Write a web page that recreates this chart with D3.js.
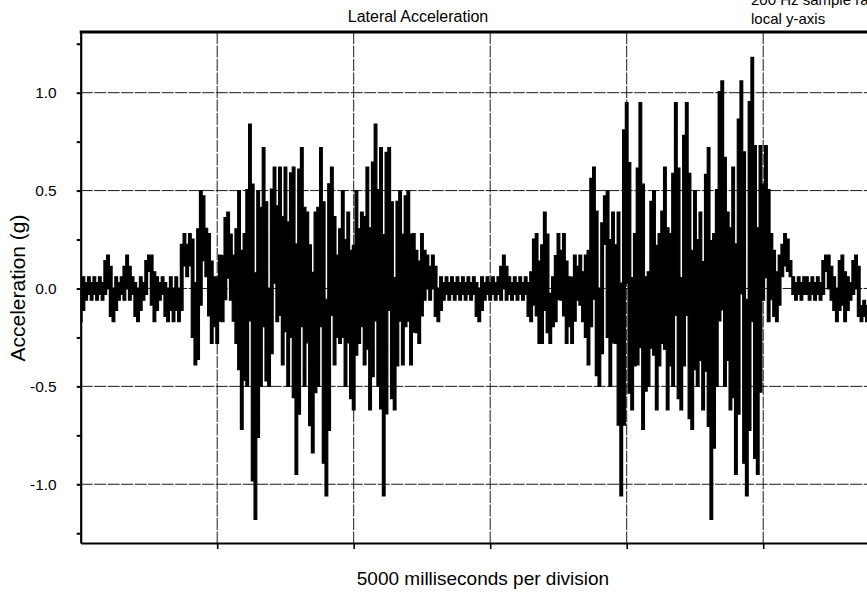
<!DOCTYPE html>
<html><head><meta charset="utf-8">
<script src="https://cdn.jsdelivr.net/npm/d3@7"></script>
<style>
body{margin:0;background:#fff}
text{font-family:"Liberation Sans",Arial,sans-serif;fill:#000}
</style>
</head><body><svg id="c" width="867" height="597"></svg>
<script>
const title = "Lateral Acceleration";
const notes = ["200 Hz sample rate", "local y-axis"];
const xLabel = "5000 milliseconds per division";
const yLabel = "Acceleration (g)";
const yTicksMajor = [-1.0, -0.5, 0.0, 0.5, 1.0];
const yTicksMinor = [-1.25, -1.0, -0.75, -0.5, -0.25, 0, 0.25, 0.5, 0.75, 1.0, 1.25];
const xDivisions = [5000, 10000, 15000, 20000, 25000];
const sampleMs = 100;

// acceleration (g), one value per 100 ms, grouped per 5000 ms division
const div0 = [-0.17,0.06,-0.06,0.06,-0.06,0.06,-0.06,0.06,-0.06,0.06,
  0.17,-0.06,-0.17,0.06,-0.06,0.06,-0.06,0.17,-0.06,0.06,
  -0.06,-0.17,0.06,-0.06,0.06,0.17,0.17,-0.17,0.06,-0.06,
  0.06,-0.06,-0.17,0.06,-0.17,0.06,-0.17,0.06,0.28,0.06,
  0.28,0.17,-0.39,-0.28,0.5,0.39,0.06,0.28,-0.28,0.06];
const div1 = [-0.28,0.17,-0.17,0.28,0.39,-0.06,0.17,-0.28,0.5,-0.72,
  0.28,-0.5,0.84,-0.39,-1.18,0.5,-0.5,0.72,-0.39,-0.5,
  0.17,0.62,-0.17,0.62,-0.39,0.62,-0.5,0.5,0.62,-0.95,
  0.28,0.72,-0.5,0.39,-0.28,-0.84,0.39,-0.5,0.72,-0.39,
  -1.06,0.28,0.62,-0.39,0.17,-0.28,0.5,-0.5,0.39,-0.39];
const div2 = [-0.62,0.5,-0.28,0.39,-0.39,0.62,-0.62,0.06,0.84,-0.5,
  0.72,-1.06,0.62,0.72,-0.39,-0.62,0.28,0.5,-0.39,0.39,
  0.5,-0.39,0.28,-0.06,-0.28,0.28,-0.06,0.17,-0.06,0.17,
  -0.06,-0.17,0.06,-0.06,0.06,-0.06,0.06,-0.06,0.06,-0.06,
  0.06,-0.06,0.06,-0.06,0.06,-0.06,-0.17,0.06,-0.06,0.06];
const div3 = [-0.06,0.06,-0.06,0.06,-0.06,0.17,-0.06,0.06,-0.06,0.06,
  -0.06,0.06,-0.06,0.06,-0.06,-0.17,0.17,0.28,-0.28,-0.28,
  0.39,-0.06,-0.28,0.06,-0.17,0.28,-0.06,0.28,-0.28,0.06,
  -0.28,0.17,-0.06,0.17,-0.17,0.17,-0.39,0.39,0.62,-0.28,
  -0.5,0.17,0.39,0.5,-0.5,0.39,-0.28,0.39,-1.06,0.39];
const div4 = [0.95,-0.28,-0.62,0.28,-0.39,0.95,-0.72,0.06,-0.5,0.28,
  0.5,-0.62,0.28,-0.28,0.62,-0.62,0.28,-0.5,0.95,-0.39,
  -0.62,0.28,0.95,-0.5,-0.72,0.5,-0.5,0.39,-0.62,0.17,
  0.72,-1.18,0.28,-0.5,0.84,1.06,-0.5,0.39,-0.62,0.62,
  -0.95,0.28,1.06,-0.39,-1.06,0.28,1.18,-0.62,-0.95,0.73];
const div5 = [-0.06,0.73,-0.17,0.28,-0.06,-0.17,0.17,0.06,0.28,0.17,
  0.06,0.06,-0.06,0.06,-0.06,0.06,0.06,-0.06,0.06,-0.06,
  0.06,-0.06,0.06,0.17,0.17,-0.06,0.06,-0.17,0.06,0.17,
  -0.17,0.06,-0.06,0.06,0.17,-0.06,-0.17,-0.06,-0.17];
const accel = [].concat(div0, div1, div2, div3, div4, div5);

const svg = d3.select("#c");
svg.append("rect").attr("width", 867).attr("height", 597).attr("fill", "#fff");

const x = d3.scaleLinear().domain([0, 30000]).range([80.7, 899.7]);
const y = d3.scaleLinear().domain([-1.3, 1.31]).range([543, 32]);
const [x0, x1] = x.range();
const [yb, yt] = y.range();

svg.append("defs").append("clipPath").attr("id", "plot")
  .append("rect").attr("x", x0).attr("y", yt).attr("width", x1 - x0).attr("height", yb - yt);

// gridlines
const grid = svg.append("g").attr("stroke", "#1a1a1a").attr("stroke-width", 1).attr("stroke-dasharray", "12,1.5");
grid.selectAll("line.v").data(xDivisions).join("line").attr("class", "v")
  .attr("x1", d => x(d)).attr("x2", d => x(d)).attr("y1", yt).attr("y2", yb);
grid.selectAll("line.h").data(yTicksMajor).join("line").attr("class", "h")
  .attr("x1", x0).attr("x2", x1).attr("y1", d => y(d)).attr("y2", d => y(d));

// signal: dense 200 Hz trace drawn as the vertical span it sweeps around each 100 ms sample
const reach = 0.75;
const n = accel.length;
const span = accel.map((v, i) => {
  const a = i > 0 ? v + reach * (accel[i - 1] - v) : v;
  const b = i < n - 1 ? v + reach * (accel[i + 1] - v) : v;
  return { t: i * sampleMs, lo: Math.min(v, a, b), hi: Math.max(v, a, b) };
});
const area = d3.area().x(d => x(d.t)).y0(d => y(d.lo)).y1(d => y(d.hi)).curve(d3.curveStep);
svg.append("path").datum(span)
  .attr("clip-path", "url(#plot)")
  .attr("fill", "#000").attr("stroke", "#000").attr("stroke-width", 1.2)
  .attr("stroke-linejoin", "miter")
  .attr("d", area);

// left axis
const fmt = d => (yTicksMajor.some(m => Math.abs(m - d) < 1e-9) ? d.toFixed(1) : "");
const ay = svg.append("g").attr("transform", `translate(${x0},0)`)
  .call(d3.axisLeft(y).tickValues(yTicksMinor).tickSize(4).tickSizeOuter(0).tickPadding(20).tickFormat(fmt));
ay.select(".domain").attr("stroke-width", 2.2);
ay.selectAll(".tick line").attr("stroke-width", 2);
ay.selectAll(".tick text").attr("font-size", 15.5).attr("font-family", "Liberation Sans, Arial, sans-serif");

// bottom axis
const ax = svg.append("g").attr("transform", `translate(0,${yb})`)
  .call(d3.axisBottom(x).tickValues(xDivisions).tickSize(6).tickSizeOuter(0).tickFormat(""));
ax.select(".domain").attr("stroke-width", 2.2);
ax.selectAll(".tick line").attr("stroke-width", 1.6);

// top border
svg.append("line").attr("x1", x0 - 1).attr("x2", x1).attr("y1", yt).attr("y2", yt)
  .attr("stroke", "#000").attr("stroke-width", 3.2);

// texts
svg.append("text").attr("x", 418).attr("y", 22).attr("text-anchor", "middle")
  .attr("font-size", 16).text(title);
svg.append("text").attr("x", 751).attr("y", 5).attr("font-size", 15).text(notes[0]);
svg.append("text").attr("x", 751).attr("y", 24).attr("font-size", 15).text(notes[1]);
svg.append("text").attr("x", 483).attr("y", 585).attr("text-anchor", "middle")
  .attr("font-size", 19).text(xLabel);
svg.append("text").attr("transform", "translate(25,288) rotate(-90)").attr("text-anchor", "middle")
  .attr("font-size", 21).text(yLabel);
</script></body></html>
